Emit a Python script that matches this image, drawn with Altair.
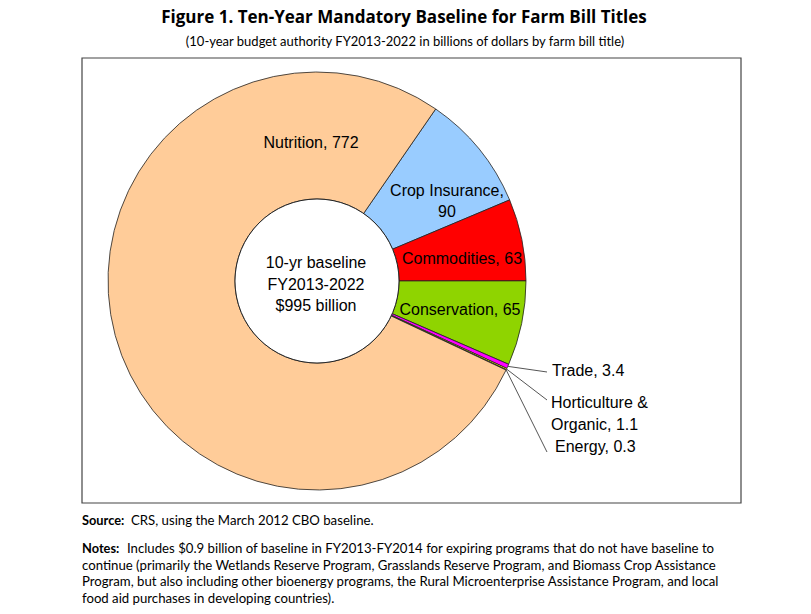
import math
import altair as alt
import pandas as pd

# ---- data ----
titles = ["Crop Insurance", "Commodities", "Conservation", "Trade",
          "Horticulture & Organic", "Energy", "Nutrition"]
values = [90, 63, 65, 3.4, 1.1, 0.3, 772]
colors = ["#99CCFF", "#FF0000", "#8FD400", "#FF00FF", "#FFFF00", "#CC9900", "#FFCC99"]
label_texts = [["Crop Insurance,", "90"], ["Commodities, 63"], ["Conservation, 65"],
               ["Trade, 3.4"], ["Horticulture &", "Organic, 1.1"], ["Energy, 0.3"],
               ["Nutrition, 772"]]
center_text = ["10-yr baseline", "FY2013-2022", "$995 billion"]

title = "Figure 1. Ten-Year Mandatory Baseline for Farm Bill Titles"
subtitle = "(10-year budget authority FY2013-2022 in billions of dollars by farm bill title)"
source_bold = "Source:"
source_text = "CRS, using the March 2012 CBO baseline."
notes_bold = "Notes:"
notes_lines = [
    "Includes $0.9 billion of baseline in FY2013-FY2014 for expiring programs that do not have baseline to",
    "continue (primarily the Wetlands Reserve Program, Grasslands Reserve Program, and Biomass Crop Assistance",
    "Program, but also including other bioenergy programs, the Rural Microenterprise Assistance Program, and local",
    "food aid purchases in developing countries).",
]

# ---- layout ----
W, H = 811, 614
CX, CY = 317, 281
R_OUT, R_IN = 209, 82
START_DEG = 34.6
FONT = "Liberation Sans"
TFONT = "Lato"
# label anchor positions (layout only)
label_pos = [(447, 201, "center"), (462, 259, "center"), (460, 310, "center"),
             (552, 371, "left"), (551, 403, "left"), (555, 447, "left"),
             (311, 143, "center")]
leader_end = {3: (547, 372), 4: (547, 400), 5: (547, 452)}

total = sum(values)
start_rad = math.radians(START_DEG)

pie_df = pd.DataFrame({"title": titles, "value": values, "order": list(range(len(titles)))})

arcs = alt.Chart(pie_df).mark_arc(
    innerRadius=R_IN, outerRadius=R_OUT, stroke="#222222", strokeWidth=0.8
).encode(
    theta=alt.Theta("value:Q", stack=True,
                    scale=alt.Scale(range=[start_rad, start_rad + 2 * math.pi])),
    order=alt.Order("order:Q"),
    color=alt.Color("title:N", scale=alt.Scale(domain=titles, range=colors), legend=None),
    x=alt.value(CX), y=alt.value(CY),
)

hole = alt.Chart(pd.DataFrame({"a": [1]})).mark_arc(
    innerRadius=0, outerRadius=R_IN, fill="white", stroke="#222222", strokeWidth=1
).encode(theta=alt.value(2 * math.pi), x=alt.value(CX), y=alt.value(CY))

# labels
rows = []
for i, lines in enumerate(label_texts):
    x, y, al = label_pos[i]
    n = len(lines)
    for j, t in enumerate(lines):
        rows.append({"t": t, "x": x, "y": y + (j - (n - 1) / 2) * 21 if al == "center" else y + j * 22, "align": al})
lab_df = pd.DataFrame(rows)
lab_c = alt.Chart(lab_df[lab_df["align"] == "center"]).mark_text(
    font=FONT, fontSize=16, color="black", align="center", baseline="middle"
).encode(x=alt.X("x:Q", scale=None), y=alt.Y("y:Q", scale=None), text="t:N")
lab_l = alt.Chart(lab_df[lab_df["align"] == "left"]).mark_text(
    font=FONT, fontSize=16, color="black", align="left", baseline="middle"
).encode(x=alt.X("x:Q", scale=None), y=alt.Y("y:Q", scale=None), text="t:N")

# leader lines from slice edges
cum = 0
lead = []
for i, v in enumerate(values):
    if i in leader_end:
        ang = start_rad + 2 * math.pi * (cum + v / 2) / total
        sx = CX + R_OUT * math.sin(ang)
        sy = CY - R_OUT * math.cos(ang)
        ex, ey = leader_end[i]
        lead.append({"x": sx, "y": sy, "x2": ex, "y2": ey})
    cum += v
lead_c = alt.Chart(pd.DataFrame(lead)).mark_rule(color="#555555", strokeWidth=1).encode(
    x=alt.X("x:Q", scale=None), y=alt.Y("y:Q", scale=None),
    x2="x2:Q", y2="y2:Q")

center_df = pd.DataFrame({"t": center_text, "y": [CY - 18, CY + 4, CY + 25]})
center_c = alt.Chart(center_df).mark_text(
    font=FONT, fontSize=16, color="black", align="center", baseline="middle"
).encode(x=alt.value(CX - 1), y=alt.Y("y:Q", scale=None), text="t:N")

frame = alt.Chart(pd.DataFrame({"a": [1]})).mark_rect(
    fill=None, stroke="#444444", strokeWidth=1.2
).encode(x=alt.value(82), x2=alt.value(741), y=alt.value(58), y2=alt.value(503))

title_c = alt.Chart(pd.DataFrame({"t": [title]})).mark_text(
    font="Open Sans", fontSize=17, fontWeight="bold", color="black", align="center", baseline="middle"
).encode(x=alt.value(404), y=alt.value(18), text="t:N")
sub_c = alt.Chart(pd.DataFrame({"t": [subtitle]})).mark_text(
    font=TFONT, fontSize=13, color="black", align="center", baseline="middle"
).encode(x=alt.value(405), y=alt.value(42), text="t:N")

NS = 13.2
NB = 12.8
src_b = alt.Chart(pd.DataFrame({"t": [source_bold]})).mark_text(
    font=TFONT, fontSize=NB, fontWeight="bold", color="black", align="left", baseline="middle"
).encode(x=alt.value(82), y=alt.value(521), text="t:N")
src_t = alt.Chart(pd.DataFrame({"t": [source_text]})).mark_text(
    font=TFONT, fontSize=NS, color="black", align="left", baseline="middle"
).encode(x=alt.value(131), y=alt.value(521), text="t:N")
notes_b = alt.Chart(pd.DataFrame({"t": [notes_bold]})).mark_text(
    font=TFONT, fontSize=NB, fontWeight="bold", color="black", align="left", baseline="middle"
).encode(x=alt.value(82), y=alt.value(549), text="t:N")
notes_df = pd.DataFrame({"t": notes_lines, "x": [127, 82, 82, 82], "y": [549, 565.5, 582, 598.5]})
notes_t = alt.Chart(notes_df).mark_text(
    font=TFONT, fontSize=NS, color="black", align="left", baseline="middle"
).encode(x=alt.X("x:Q", scale=None), y=alt.Y("y:Q", scale=None), text="t:N")

chart = alt.layer(
    frame, arcs, hole, lead_c, lab_c, lab_l, center_c,
    title_c, sub_c, src_b, src_t, notes_b, notes_t
).properties(
    width=W, height=H, padding=0,
    autosize=alt.AutoSizeParams(type="fit", contains="padding"),
    background="white",
).configure_view(stroke=None)

chart.save("out.html", embed_options={"renderer": "svg", "actions": False})
